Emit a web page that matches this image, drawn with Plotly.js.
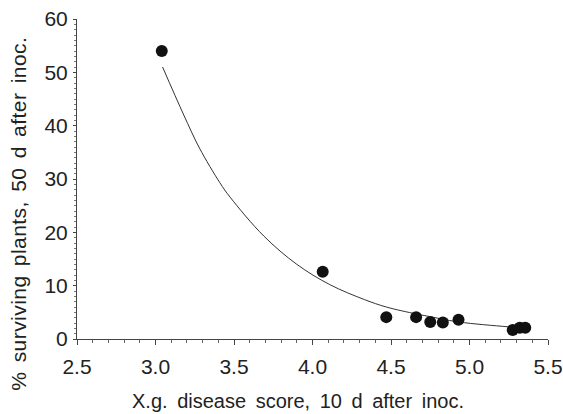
<!DOCTYPE html>
<html>
<head>
<meta charset="utf-8">
<script src="https://cdn.plot.ly/plotly-3.0.1.min.js"></script>
<style>html,body{margin:0;padding:0;background:#fff;}#chart{width:563px;height:414px;}</style>
</head>
<body>
<div id="chart"></div>
<script>
// Observed data points
const diseaseScore = [3.04, 4.065, 4.47, 4.66, 4.75, 4.83, 4.93, 5.275, 5.32, 5.355];
const survivingPct = [54.0, 12.6, 4.1, 4.1, 3.2, 3.1, 3.6, 1.7, 2.1, 2.1];

// Fitted curve
const curveX = [3.045, 3.18, 3.28, 3.41, 3.475, 3.69, 3.90, 4.11, 4.33, 4.47, 4.66, 4.73, 4.93, 5.24, 5.35];
const curveY = [51.0, 42.0, 35.8, 29.3, 26.6, 19.3, 14.0, 10.2, 7.4, 6.0, 4.7, 4.3, 3.2, 2.3, 2.05];

// Axis labels
const xTickVals = [2.5, 3.0, 3.5, 4.0, 4.5, 5.0, 5.5];
const xTickText = ['2.5', '3.0', '3.5', '4.0', '4.5', '5.0', '5.5'];
const yTickVals = [0, 10, 20, 30, 40, 50, 60];
const yTickText = ['0', '10', '20', '30', '40', '50', '60'];
const xTitle = 'X.g. disease score, 10 d after inoc.';
const yTitle = '% surviving plants, 50 d after inoc.';

const FONT = 'Liberation Sans, Arial, sans-serif';
const TXT = '#222';

const traces = [
  {
    x: curveX, y: curveY, type: 'scatter', mode: 'lines',
    line: {color: '#333', width: 1, shape: 'spline', smoothing: 1},
    hoverinfo: 'skip', showlegend: false
  },
  {
    x: diseaseScore, y: survivingPct, type: 'scatter', mode: 'markers',
    marker: {color: '#111', size: 12},
    showlegend: false
  }
];

const layout = {
  width: 563, height: 414,
  margin: {l: 77, r: 15, t: 19, b: 75, pad: 0},
  paper_bgcolor: '#fff', plot_bgcolor: '#fff',
  font: {family: FONT, color: TXT, size: 21},
  showlegend: false,
  xaxis: {
    range: [2.5, 5.5], tickvals: xTickVals, ticktext: xTickText,
    showgrid: false, zeroline: false, showline: true, linecolor: '#444', linewidth: 1,
    ticks: 'outside', ticklen: 5, tickcolor: '#444', tickwidth: 1,
    minor: {dtick: 0.1, ticks: 'outside', ticklen: 3, tickcolor: '#666', showgrid: false},
    tickfont: {size: 21, family: FONT, color: TXT},
    ticklabelstandoff: 4
  },
  yaxis: {
    range: [0, 60], tickvals: yTickVals, ticktext: yTickText,
    showgrid: false, zeroline: false, showline: true, linecolor: '#444', linewidth: 1,
    ticks: 'outside', ticklen: 3, tickcolor: '#444', tickwidth: 1,
    minor: {dtick: 1, ticks: 'outside', ticklen: 2, tickcolor: '#777', showgrid: false},
    tickfont: {size: 21, family: FONT, color: TXT},
    ticklabelstandoff: 1
  },
  annotations: [
    {
      text: xTitle, xref: 'paper', yref: 'paper',
      x: 0.469, y: -0.194, xanchor: 'center', yanchor: 'middle',
      showarrow: false, font: {size: 20, family: FONT, color: TXT}
    },
    {
      text: yTitle, xref: 'paper', yref: 'paper', textangle: -90,
      x: -0.125, y: 0.392, xanchor: 'center', yanchor: 'middle',
      showarrow: false, font: {size: 21, family: FONT, color: TXT}
    }
  ]
};

Plotly.newPlot('chart', traces, layout, {displayModeBar: false, staticPlot: true}).then(function () {
  const anns = document.querySelectorAll('.annotation-text');
  if (anns.length > 1) {
    anns[0].setAttribute('word-spacing', '4px');
    anns[1].setAttribute('letter-spacing', '0.45px');
    anns[1].setAttribute('word-spacing', '3px');
  }
});
</script>
</body>
</html>
